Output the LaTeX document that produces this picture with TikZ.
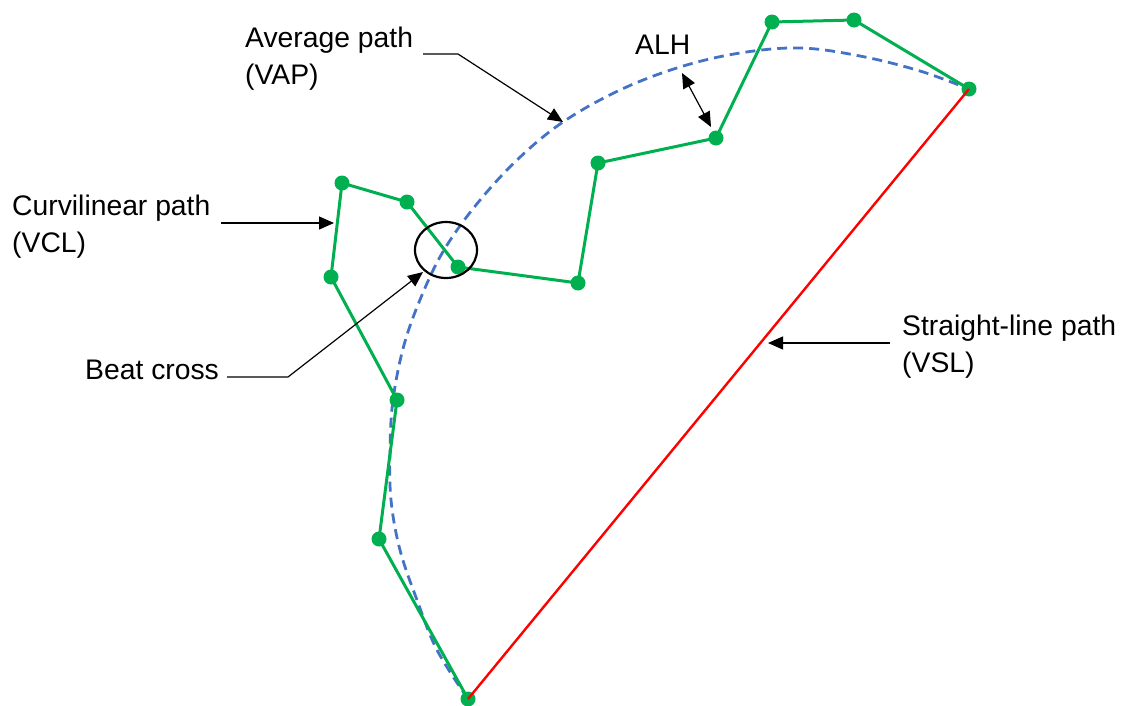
\documentclass[tikz,border=0pt]{standalone}
\usepackage{fontspec}
\setmainfont{Liberation Sans}
\usetikzlibrary{arrows.meta,shapes.geometric}
\definecolor{pgreen}{HTML}{00B050}
\definecolor{pblue}{HTML}{4472C4}
\definecolor{pred}{HTML}{FF0000}
\tikzset{
  dot/.style={circle,fill=pgreen,inner sep=0pt,minimum size=15pt},
  greenline/.style={pgreen,line width=3pt,line join=round},
  vapline/.style={pblue,line width=2.8pt,dash pattern=on 10pt off 6pt},
  redline/.style={pred,line width=2.4pt},
  leader/.style={black,line width=1.2pt,-{Triangle[length=15pt,width=13pt]}},
  dleader/.style={black,line width=1.2pt,{Triangle[length=15pt,width=13pt]}-{Triangle[length=15pt,width=13pt]}},
  lbl/.style={inner sep=0pt,anchor=north west,align=left,font=\fontsize{28.3}{36.5}\selectfont}
}
\begin{document}
\begin{tikzpicture}[x=1pt,y=-1pt]
\useasboundingbox (0,0) rectangle (1123,705);
% average path
\draw[vapline] plot[smooth,tension=0.6] coordinates {(468,699) (437,650) (417,600) (400,550) (391,500) (390,450) (393,400) (404,345) (422,295) (444,250) (476,205) (517,160) (563,122) (620,90) (680,67) (740,53) (800,48) (860,56) (920,71) (969,89)};
% green points
\node[dot] (g1) at (468,699) {};
\node[dot] (g2) at (379,539) {};
\node[dot] (g3) at (397,400) {};
\node[dot] (g4) at (331,277) {};
\node[dot] (g5) at (342,183) {};
\node[dot] (g6) at (407,202) {};
\node[dot] (g7) at (458,267) {};
\node[dot] (g8) at (578,283) {};
\node[dot] (g9) at (598,163) {};
\node[dot] (g10) at (716,138) {};
\node[dot] (g11) at (772,22) {};
\node[dot] (g12) at (854,20) {};
\node[dot] (g13) at (969,89) {};
\draw[greenline] (g1.center) -- (g2.center) -- (g3.center) -- (g4.center) -- (g5.center) -- (g6.center) -- (g7.center) -- (g8.center) -- (g9.center) -- (g10.center) -- (g11.center) -- (g12.center) -- (g13.center);
% straight line
\draw[redline] (g1.center) -- (g13.center);
% beat cross circle
\node[ellipse,draw=black,line width=2.2pt,minimum width=62pt,minimum height=56pt,inner sep=0pt] (bc) at (446,250) {};
% labels
\node[lbl] (vap) at (245,27) {Average path\\(VAP)};
\node[lbl] (alh) at (635,35) {ALH};
\node[lbl] (vcl) at (12,195) {Curvilinear path\\(VCL)};
\node[lbl] (beat) at (85,360) {Beat cross};
\node[lbl] (vsl) at (902,315) {Straight-line path\\(VSL)};
% leaders
\coordinate (vapA) at (423,54);
\coordinate (vapB) at (458,54);
\coordinate (vapT) at (563,122);
\draw[leader] (vapA) -- (vapB) -- (vapT);
\coordinate (alhA) at (682,73);
\coordinate (alhB) at (711,127);
\draw[dleader] (alhA) -- (alhB);
\coordinate (vclA) at (221,223);
\coordinate (vclT) at (334,223);
\draw[leader] (vclA) -- (vclT);
\coordinate (bcA) at (227,377);
\coordinate (bcB) at (288,377);
\coordinate (bcT) at (423,272);
\draw[leader] (bcA) -- (bcB) -- (bcT);
\coordinate (vslA) at (890,343);
\coordinate (vslT) at (768,343);
\draw[leader] (vslA) -- (vslT);
\end{tikzpicture}
\end{document}
